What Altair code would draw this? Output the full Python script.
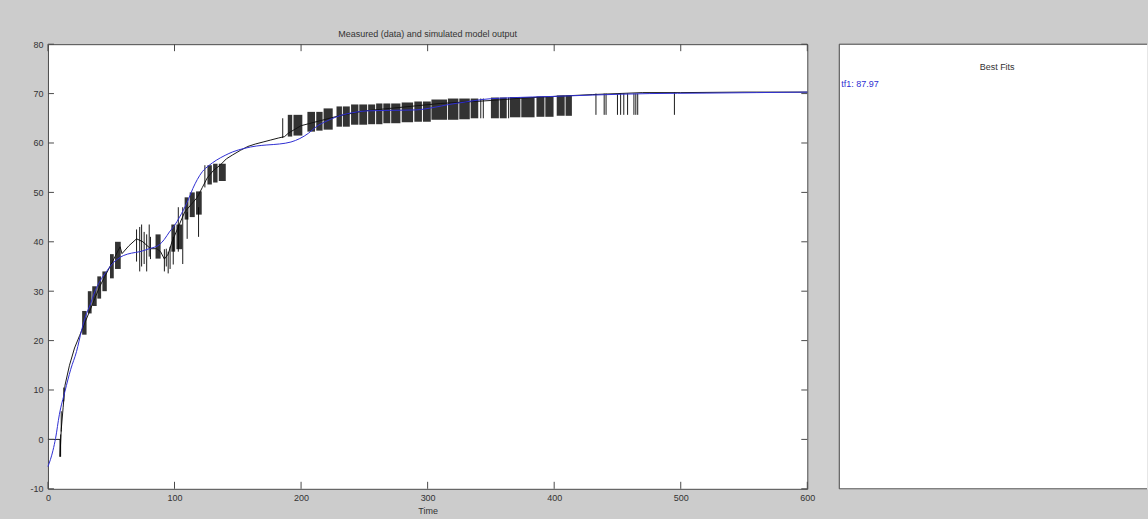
import altair as alt
import pandas as pd

# ---- simulated model output (tf1) ----
sim_t = [0, 4, 6, 9, 13.4, 18, 22.6, 26.5, 30.5, 33, 37, 41, 46.3, 51, 55, 59.5, 66, 72.6,
         80, 88, 92, 96, 100, 104, 110, 114.5, 118, 122, 127, 133, 140, 146, 155, 165,
         173, 183, 192, 199, 206, 212, 220, 228, 240, 252, 270, 291, 305, 317, 330, 343,
         370, 396, 430, 475, 520, 560, 600]
sim_v = [-5.5, -2.2, 0.2, 5, 9.7, 14.2, 17.8, 22, 25.5, 27, 29.9, 32, 34, 35.6, 36.5, 37.2,
         37.7, 38, 38.6, 39.4, 40.5, 42, 43.3, 45, 48, 50.8, 52.6, 54.2, 55.4, 56.5, 57.5,
         58.2, 58.9, 59.4, 59.6, 59.8, 60.2, 60.9, 62, 63.3, 64.4, 65.3, 66.1, 66.5, 66.6,
         66.7, 67.2, 67.8, 68.3, 68.8, 69.2, 69.4, 69.7, 70, 70.1, 70.2, 70.3]

# ---- measured data: underlying trace ----
meas_t = [0, 9.5, 9.5, 10.5, 12, 13.5, 17, 21, 25, 29, 33, 37, 41, 45, 49, 53, 57, 58.5,
          64, 70, 75, 81, 86, 89, 92, 95, 98, 103, 108, 113, 118, 122, 126, 131, 136,
          141, 146, 152, 158, 164, 170, 176, 182, 187, 190, 200, 215, 230, 250, 270, 290,
          310, 330, 350, 370, 390, 414, 430, 450, 470, 500, 550, 600]
meas_v = [0, 0, -3.5, 2, 6.5, 11, 15, 18.5, 21, 23.5, 26, 28.5, 31, 33, 35, 37, 39, 37.6,
          39.2, 40.6, 40, 38.6, 38.6, 38, 36.5, 37.5, 40, 43, 46, 47.5, 49, 51, 53,
          54.5, 55.5, 56.8, 57.6, 58.5, 59.3, 59.8, 60.2, 60.6, 61, 61.3, 62, 63.5, 64.5,
          65.5, 66.5, 67, 67.5, 68, 68.3, 68.6, 69, 69.3, 69.6, 69.8, 70, 70.2, 70.2, 70.3,
          70.3]

# ---- measured data: dense switching bursts (start, end, low, high) ----
burst_t0 = [27, 31.5, 35, 39, 43, 49, 53, 85, 97.5, 101.5, 108, 112, 117, 126, 130.5, 135,
            189.5, 194, 205, 212, 217.8, 228, 233, 239.5, 246, 253, 259.3, 265, 271.2,
            279.5, 289.5, 296.3, 303, 316, 325, 334, 350, 357, 365, 374, 386, 393, 402, 409]
burst_t1 = [30.5, 34.5, 38.5, 42, 46.5, 52, 57.5, 89, 100.5, 106, 111, 116, 121.5, 129.5,
            134, 140.5, 193, 201, 211, 217, 225, 232.3, 238.5, 245.3, 252.2, 258.5, 264.3,
            270.5, 278.5, 288.5, 295.5, 302.5, 315.3, 324.3, 333.3, 340, 356.3, 362.5,
            373.3, 384.5, 392.3, 399.5, 408.3, 414]
burst_lo = [21.2, 25.5, 27, 28.5, 30, 32.6, 34.5, 36.6, 38, 38.5, 44.5, 45, 45.5, 51.6, 52,
            52.3, 61.3, 61.5, 62.3, 62.5, 62.7, 63.3, 63.3, 63.7, 63.7, 63.8, 63.8, 64, 64,
            64.2, 64.3, 64.3, 64.7, 64.7, 64.8, 65, 65, 65, 65.2, 65.2, 65.3, 65.3, 65.5,
            65.5]
burst_hi = [26, 30, 31, 33, 34, 37.5, 40, 41.5, 43.5, 43.5, 49, 50, 50.2, 55.5, 55.8, 55.8,
            65.7, 65.7, 66.3, 66.3, 67, 67.4, 67.4, 67.8, 67.8, 67.8, 68, 68, 68, 68.2,
            68.4, 68.4, 68.8, 69, 69, 69, 69.2, 69.2, 69.3, 69.3, 69.4, 69.4, 69.6, 69.6]

# ---- measured data: isolated switching spikes (time, low, high) ----
spike_t = [10, 10.5, 12.5, 70, 72.5, 74, 76, 78, 80, 81, 92, 93.5, 95, 96.5, 99, 103,
           106.5, 110, 119, 124, 185.5, 342, 344, 364, 433, 439.5, 441, 450, 452.5, 455,
           458, 463, 464.5, 466, 495]
spike_lo = [-3.5, 1.6, 7.7, 36, 34, 35, 35.5, 34, 37, 36.5, 34, 35, 33.6, 34.5, 35.4, 38,
            35.5, 40.6, 41, 51, 61, 65, 65, 65, 65.7, 65.7, 65.7, 65.7, 65.7, 65.7, 65.7,
            65.7, 65.7, 65.7, 65.7]
spike_hi = [1, 5.7, 10.5, 42.5, 43, 43.5, 42, 41.5, 43.5, 41, 38.5, 38.6, 38, 39, 41, 47,
            47, 46, 47, 55.5, 65, 69, 69, 69.2, 70, 70, 70, 70, 70, 70, 70, 70, 70, 70,
            70.2]

x_ticks = [0, 100, 200, 300, 400, 500, 600]
y_ticks = [-10, 0, 10, 20, 30, 40, 50, 60, 70, 80]

fit_labels = ["tf1: 87.97"]

W, H = 760, 445
AX = "#4a4a4a"
TXT = "#333333"
FONT = "Liberation Sans"
BLUE = "#2e2ed2"

sim = pd.DataFrame({"t": sim_t, "v": sim_v})
meas = pd.DataFrame({"t": meas_t, "v": meas_v, "o": list(range(len(meas_t)))})
bursts = pd.DataFrame({"t0": burst_t0, "t1": burst_t1, "lo": burst_lo, "hi": burst_hi})
spikes = pd.DataFrame({"t": spike_t, "lo": spike_lo, "hi": spike_hi})
xt = pd.DataFrame({"t": x_ticks})
yt = pd.DataFrame({"v": y_ticks})

xs = alt.Scale(domain=[0, 600], nice=False, zero=False)
ys = alt.Scale(domain=[-10, 80], nice=False, zero=False)

x_axis = alt.Axis(values=x_ticks, ticks=False, domain=False, grid=False, labelFont=FONT,
                  labelFontSize=9, labelColor=TXT, labelPadding=5, labelFlush=False,
                  labelExpr="'' + datum.value",
                  title="Time", titleFont=FONT, titleFontSize=9, titleFontWeight="normal",
                  titleColor=TXT, titlePadding=4)
y_axis = alt.Axis(values=y_ticks, ticks=False, domain=False, grid=False, labelFont=FONT,
                  labelFontSize=9, labelColor=TXT, labelPadding=5, labelFlush=False,
                  labelExpr="'' + datum.value", title=None)

meas_line = alt.Chart(meas).mark_line(color="black", strokeWidth=0.9).encode(
    x=alt.X("t:Q", scale=xs, axis=x_axis),
    y=alt.Y("v:Q", scale=ys, axis=y_axis),
    order="o:Q",
)
burst_marks = alt.Chart(bursts).mark_rect(color="#111111", opacity=0.86).encode(
    x="t0:Q", x2="t1:Q", y="lo:Q", y2="hi:Q"
)
spike_marks = alt.Chart(spikes).mark_rule(color="black", strokeWidth=0.9).encode(
    x="t:Q", y="lo:Q", y2="hi:Q"
)
sim_line = alt.Chart(sim).mark_line(color=BLUE, strokeWidth=1, interpolate="monotone").encode(
    x="t:Q", y="v:Q"
)

# inward ticks on all four sides of the axes box
tick_b = alt.Chart(xt).mark_rule(color=AX).encode(x="t:Q", y=alt.value(H), y2=alt.value(H - 7))
tick_t = alt.Chart(xt).mark_rule(color=AX).encode(x="t:Q", y=alt.value(0), y2=alt.value(7))
tick_l = alt.Chart(yt).mark_rule(color=AX).encode(y="v:Q", x=alt.value(0), x2=alt.value(6))
tick_r = alt.Chart(yt).mark_rule(color=AX).encode(y="v:Q", x=alt.value(W), x2=alt.value(W - 6))

left = alt.layer(
    meas_line, burst_marks, spike_marks, sim_line, tick_b, tick_t, tick_l, tick_r
).properties(
    width=W, height=H,
    title=alt.TitleParams("Measured (data) and simulated model output", font=FONT,
                          fontSize=9, fontWeight="normal", color=TXT, offset=1),
    view=alt.ViewBackground(fill="white", stroke=AX, strokeWidth=1),
)

# ---- Best Fits panel ----
RW = 308
fits = pd.DataFrame({"label": fit_labels})
heading = pd.DataFrame({"label": ["Best Fits"]})
fit_text = alt.Chart(fits).mark_text(
    align="left", baseline="middle", font=FONT, fontSize=9, color=BLUE
).encode(text="label:N", x=alt.value(2), y=alt.value(40))
head_text = alt.Chart(heading).mark_text(
    align="center", baseline="middle", font=FONT, fontSize=9, color=TXT
).encode(text="label:N", x=alt.value(158), y=alt.value(23))
border_l = alt.Chart(heading).mark_rule(color=AX).encode(
    x=alt.value(0), y=alt.value(0), y2=alt.value(H))
border_t = alt.Chart(heading).mark_rule(color=AX).encode(
    y=alt.value(0), x=alt.value(0), x2=alt.value(RW))
border_b = alt.Chart(heading).mark_rule(color=AX).encode(
    y=alt.value(H), x=alt.value(0), x2=alt.value(RW))

right = alt.layer(head_text, fit_text, border_l, border_t, border_b).properties(
    width=RW, height=H,
    view=alt.ViewBackground(fill="white", stroke="transparent"),
)

chart = alt.hconcat(left, right, spacing=32, bounds="flush").properties(
    background="#cccccc",
    padding={"left": 29, "top": 29, "right": 0, "bottom": 2},
)

chart.save("out.html", embed_options={"renderer": "svg", "actions": False})
